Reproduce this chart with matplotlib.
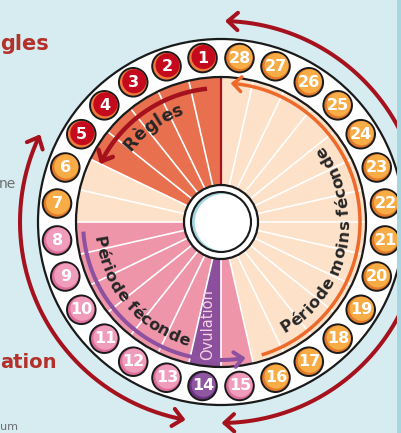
import numpy as np
import matplotlib
matplotlib.use("Agg")
import matplotlib.pyplot as plt
from matplotlib.patches import Wedge, Circle, Rectangle
from matplotlib.font_manager import FontProperties, findfont, get_font

# ---------------- data ----------------
days = list(range(1, 29))
day_phase = (["regles"] * 5 + ["moins"] * 2 + ["feconde"] * 6 +
             ["ovulation"] + ["feconde"] + ["moins"] * 13)

wedge_colors = {"regles": "#E9704F", "moins": "#FDE1C8",
                "feconde": "#EE95AA", "ovulation": "#8B4F9B"}
num_fill = {"regles": "#C50A1D", "moins": "#F7AC45",
            "feconde": "#F09DBB", "ovulation": "#8F56A2"}
num_rim = {"regles": "#EE7A3E", "moins": "#E27A2C",
           "feconde": "#DD6D9C", "ovulation": "#6B3380"}

label_regles = "Règles"
label_feconde = "Période féconde"
label_moins = "Période moins féconde"
label_ovulation = "Ovulation"
side_titles = ["gles", "ation"]
side_notes = ["ne", "um"]

# ---------------- figure ----------------
W, H = 401, 433
fig = plt.figure(figsize=(W / 100, H / 100), dpi=100)
ax = fig.add_axes([0, 0, 1, 1])
ax.set_xlim(0, W)
ax.set_ylim(0, H)
ax.set_aspect("equal")
ax.axis("off")
BG = "#D6ECF0"
fig.patch.set_facecolor(BG)

cx, cy = 221, H - 222
n = len(days)
step = 360.0 / n
R_IN, R_OUT = 145, 183
R_NUM, NUM_R = 165, 14.3
R_HOLE = 37


def pol(r, a):
    t = np.radians(a)
    return cx + r * np.cos(t), cy + r * np.sin(t)


# wedges
for k, ph in zip(days, day_phase):
    a0 = 90 + (k - 1) * step
    ax.add_patch(Wedge((cx, cy), R_IN, a0, a0 + step,
                       facecolor=wedge_colors[ph], edgecolor="none", zorder=1))

# white radial lines at day boundaries
for k in days:
    a = 90 + (k - 1) * step
    x0, y0 = pol(R_HOLE, a)
    x1, y1 = pol(R_IN, a)
    if k == 1:
        ax.plot([x0, x1], [y0, y1], color="#A5121E", lw=1.6, zorder=2)
    else:
        ax.plot([x0, x1], [y0, y1], color="white", lw=1.2, zorder=2)

# ring
ax.add_patch(Wedge((cx, cy), R_OUT, 0, 360, width=R_OUT - R_IN,
                   facecolor="white", edgecolor="#1A1A1A", lw=1.6, zorder=3))

# number circles
for k, ph in zip(days, day_phase):
    a = 90 + (k - 0.5) * step
    x, y = pol(R_NUM, a)
    ax.add_patch(Circle((x, y), NUM_R, facecolor=num_rim[ph],
                        edgecolor="#1A1A1A", lw=1.4, zorder=4))
    ax.add_patch(Circle((x + 1.0, y + 1.0), NUM_R - 2.3,
                        facecolor=num_fill[ph], edgecolor="none", zorder=4.5))
    ax.text(x + 0.5, y, str(k), color="white", fontsize=11.5, fontweight="bold",
            ha="center", va="center", zorder=5, family="DejaVu Sans")

# center hole
ax.add_patch(Circle((cx, cy), R_HOLE, facecolor="white",
                    edgecolor="#1A1A1A", lw=1.6, zorder=7))
ax.add_patch(Circle((cx, cy), 30, facecolor="#A3D8E1", edgecolor="none", zorder=7.1))
ax.add_patch(Circle((cx + 2.2, cy - 0.5), 28.4, facecolor="white",
                    edgecolor="none", zorder=7.2))
ax.add_patch(Circle((cx, cy), 30, facecolor="none",
                    edgecolor="#1A1A1A", lw=1.5, zorder=7.3))


# arcs with chevron heads
def arc(r, a0, a1, color, lw, head_start=False, head_end=False, hl=11, ha_=42, z=6):
    th = np.radians(np.linspace(a0, a1, 300))
    ax.plot(cx + r * np.cos(th), cy + r * np.sin(th), color=color, lw=lw,
            solid_capstyle="butt", zorder=z)
    sgn = 1 if a1 > a0 else -1

    def head(a, d):
        t = np.radians(a)
        tip = np.array(pol(r, a))
        dv = d * np.array([-np.sin(t), np.cos(t)])
        for s in (1, -1):
            ang = np.radians(180 + s * ha_)
            rot = np.array([[np.cos(ang), -np.sin(ang)], [np.sin(ang), np.cos(ang)]])
            w = rot @ dv
            p = tip + hl * w
            ax.plot([tip[0], p[0]], [tip[1], p[1]], color=color, lw=lw,
                    solid_capstyle="round", zorder=z)

    if head_end:
        head(a1, sgn)
    if head_start:
        head(a0, -sgn)


RED = "#A5121E"
arc(201, 155, 259, RED, 2.9, head_start=True, head_end=True, hl=13)
arc(201, 88, -89, RED, 2.9, head_start=True, head_end=True, hl=13)
arc(134, 96, 153, RED, 3.2, head_end=True, hl=12)
arc(139, -73, 85, "#EE6A2A", 2.5, head_end=True, hl=11)
arc(138, 184, 279, "#8E519F", 2.9, head_end=True, hl=11, z=6.5)


# curved text
def advances(s, fp):
    font = get_font(findfont(fp))
    font.set_size(fp.get_size_in_points(), 100)
    return [font.load_char(ord(ch)).linearHoriAdvance / 65536 for ch in s]


def curved_text(s, r_base, theta_c, outward_up, fontsize, color,
                weight="bold", track=0.0):
    fp = FontProperties(family="DejaVu Sans", weight=weight, size=fontsize)
    adv = [a + track for a in advances(s, fp)]
    total = sum(adv)
    r_mid = r_base + 4 if outward_up else r_base - 4
    pos = 0.0
    for ch, a in zip(s, adv):
        c = pos + a / 2 - total / 2
        pos += a
        if outward_up:
            th = theta_c - np.degrees(c / r_mid)
            rot = th - 90
        else:
            th = theta_c + np.degrees(c / r_mid)
            rot = th + 90
        x, y = pol(r_base, th)
        ax.text(x, y, ch, rotation=rot, rotation_mode="anchor", ha="center",
                va="baseline", fontproperties=fp, color=color, zorder=8)


TXT = "#262626"
curved_text(label_regles, 114, 125.5, True, 12.5, TXT, track=0.5)
curved_text(label_feconde, 128, 221, False, 11.6, TXT)
curved_text(label_moins, 128, -11.5, False, 11.8, TXT)

ax.text(208, H - 325, label_ovulation, rotation=90, ha="center", va="center",
        color="#F5D3E6", fontsize=10.5, family="DejaVu Sans", zorder=8)

# side texts
ax.text(0, H - 50, side_titles[0], color="#B3302B", fontsize=15,
        fontweight="bold", ha="left", va="baseline")
ax.text(0, H - 368, side_titles[1], color="#B3302B", fontsize=14,
        fontweight="bold", ha="left", va="baseline")
ax.text(16, H - 188, side_notes[0], color="#6D6E71", fontsize=10,
        ha="right", va="baseline")
ax.text(0, 1, side_notes[1], color="#6D6E71", fontsize=8,
        ha="left", va="bottom")

# right strip
ax.add_patch(Rectangle((397, 0), 4, H, facecolor="#A6D7E0", edgecolor="none", zorder=20))

fig.savefig("out.png", dpi=100, facecolor=BG)
